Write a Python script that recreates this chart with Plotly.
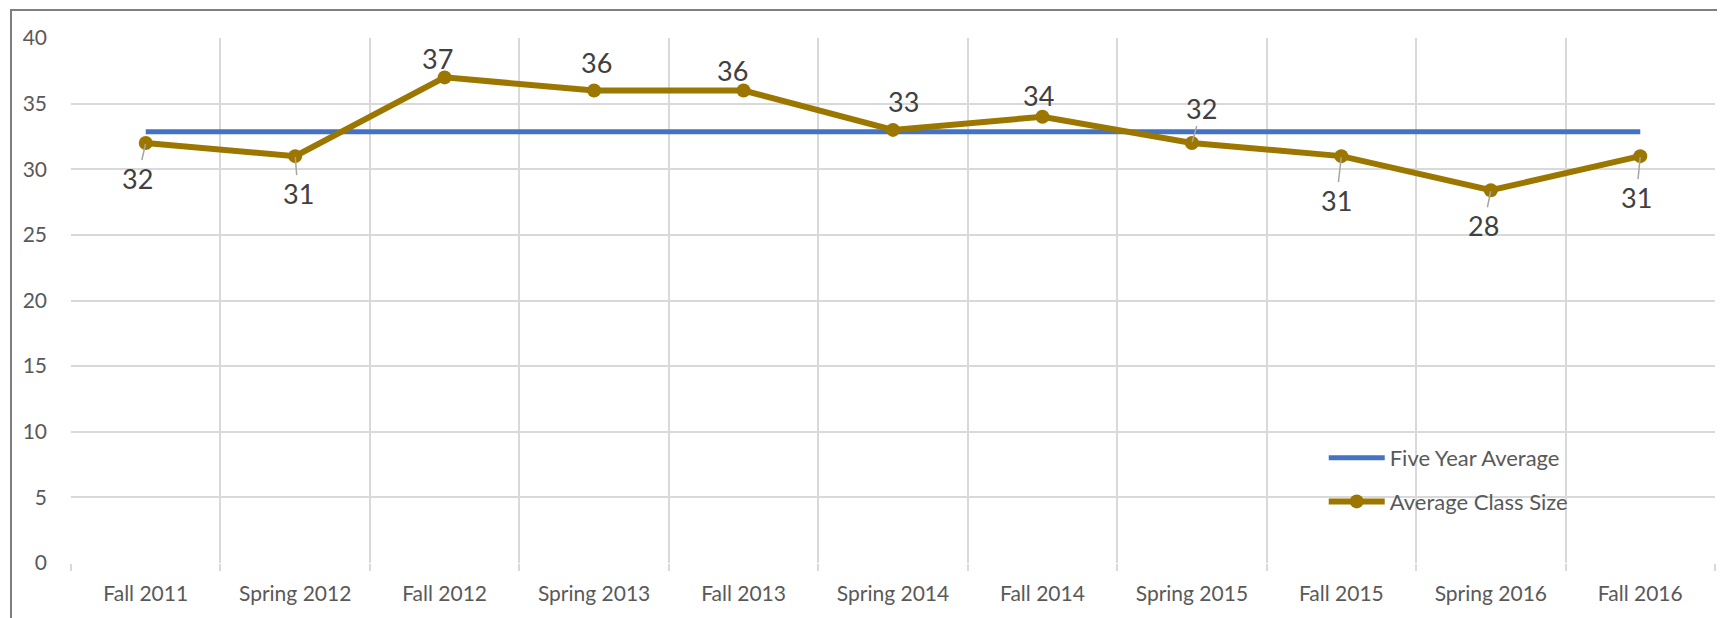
import plotly.graph_objects as go

categories = ["Fall 2011", "Spring 2012", "Fall 2012", "Spring 2013", "Fall 2013",
              "Spring 2014", "Fall 2014", "Spring 2015", "Fall 2015", "Spring 2016", "Fall 2016"]
class_size = [32, 31, 37, 36, 36, 33, 34, 32, 31, 28.4, 31]
label_text = ["32", "31", "37", "36", "36", "33", "34", "32", "31", "28", "31"]
five_year_avg = [32.85, 32.85, 32.85, 32.85, 32.85, 32.85, 32.85, 32.85, 32.85, 32.85, 32.85]
y_ticks = [0, 5, 10, 15, 20, 25, 30, 35, 40]

# label offsets (pixels) and whether a leader line is drawn
label_dx = [-8, 3, -7, 2, -11, 10, -4, 10, -5, -7, -4]
label_dy = [35, 37, -19, -28, -20, -28, -21, -35, 44, 35, 41]
leader = [True, True, False, False, False, False, False, True, True, True, True]

GOLD = "#9C7700"
BLUE = "#4472C4"
FONT = "Lato"

fig = go.Figure()
fig.add_trace(go.Scatter(
    x=categories, y=five_year_avg, mode="lines", name="Five Year Average",
    line=dict(color=BLUE, width=5), legendgroup="a", hoverinfo="skip"))
fig.add_trace(go.Scatter(
    x=categories, y=class_size, mode="lines+markers", name="Average Class Size",
    line=dict(color=GOLD, width=6), marker=dict(color=GOLD, size=14),
    legendgroup="b"))

for c, v, t, dx, dy, ld in zip(categories, class_size, label_text, label_dx, label_dy, leader):
    if ld:
        fig.add_annotation(x=c, y=v, text=t, showarrow=True, ax=dx, ay=dy,
                           arrowhead=0, arrowwidth=1.5, arrowcolor="#A6A6A6",
                           standoff=1, startstandoff=0,
                           font=dict(family=FONT, size=27, color="#404040"))
    else:
        fig.add_annotation(x=c, y=v, text=t, showarrow=False, xshift=dx, yshift=-dy,
                           font=dict(family=FONT, size=27, color="#404040"))

# outer frame
fig.add_shape(type="rect", xref="paper", yref="paper",
              x0=-0.0365, x1=1.02, y0=-0.2, y1=1.0533,
              line=dict(color="#7F7F7F", width=2), fillcolor="rgba(0,0,0,0)", layer="below")

fig.update_layout(
    width=1717, height=610,
    margin=dict(l=63, r=10, t=30, b=55),
    paper_bgcolor="white", plot_bgcolor="white",
    font=dict(family=FONT, color="#595959"),
    showlegend=True,
    legend=dict(x=0.762, y=0.24, xanchor="left", yanchor="top",
                font=dict(family=FONT, size=22, color="#595959"),
                bgcolor="rgba(0,0,0,0)", itemwidth=56,
                traceorder="grouped", tracegroupgap=12),
    xaxis=dict(type="category", range=[-0.5, len(categories) - 0.5],
               tickson="boundaries", showgrid=True, gridcolor="#D9D9D9", gridwidth=1.5,
               ticks="outside", ticklen=7, tickcolor="#D9D9D9", tickwidth=1.5,
               ticklabelstandoff=16,
               tickfont=dict(family=FONT, size=21, color="#595959"),
               showline=False, zeroline=False, fixedrange=True),
    yaxis=dict(range=[0, 40], tickvals=y_ticks, showgrid=True, gridcolor="#D9D9D9",
               gridwidth=1.5, zeroline=False, showline=False,
               ticks="", ticklabelstandoff=23,
               tickfont=dict(family=FONT, size=21, color="#595959"), fixedrange=True),
)

fig.write_html("out.html")
